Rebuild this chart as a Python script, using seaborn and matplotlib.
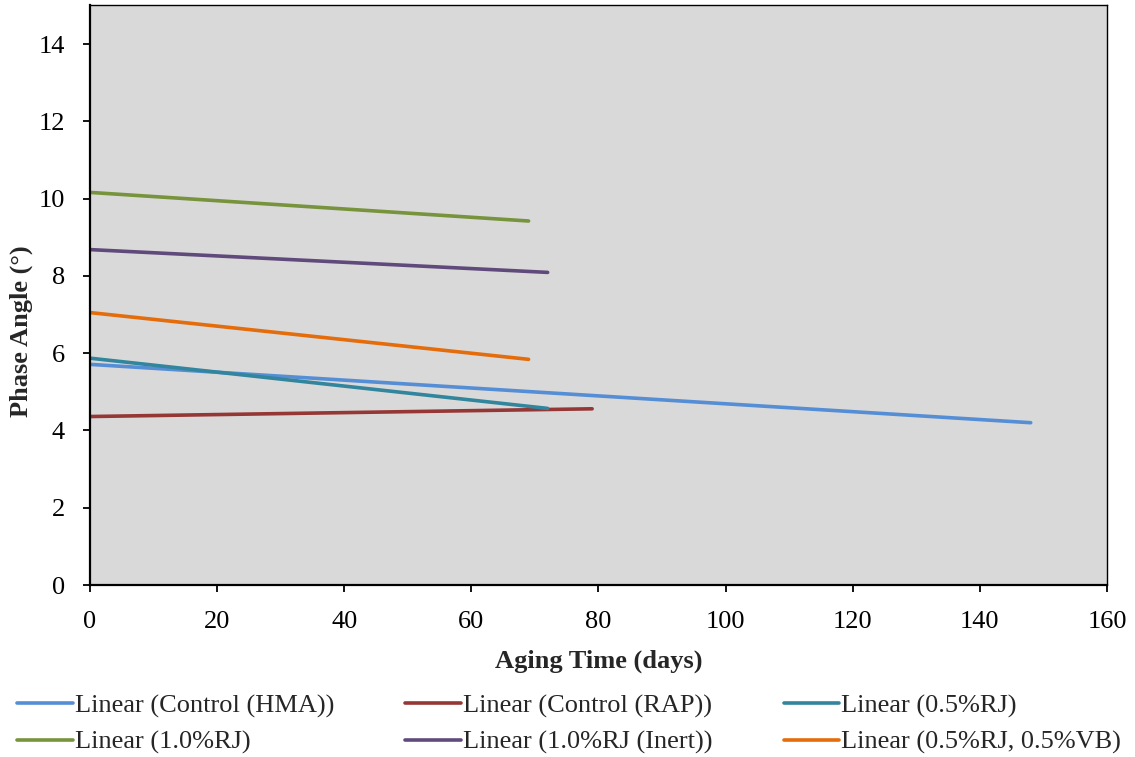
import matplotlib
matplotlib.use("Agg")
import matplotlib.pyplot as plt
import seaborn as sns
import pandas as pd

# Linear trendline endpoints for each mix: (start day, end day) -> (start, end) phase angle
series = [
    "Linear (Control (HMA))",
    "Linear (Control (RAP))",
    "Linear (0.5%RJ)",
    "Linear (1.0%RJ)",
    "Linear (1.0%RJ (Inert))",
    "Linear (0.5%RJ, 0.5%VB)",
]
day_start = [0, 0, 0, 0, 0, 0]
day_end = [148, 79, 72, 69, 72, 69]
angle_start = [5.71, 4.36, 5.87, 10.16, 8.68, 7.05]
angle_end = [4.20, 4.56, 4.57, 9.42, 8.09, 5.84]
colors = ["#558ED5", "#953735", "#31859C", "#77933C", "#604A7B", "#E46C0A"]

rows = []
for name, x0, x1, y0, y1 in zip(series, day_start, day_end, angle_start, angle_end):
    rows.append({"series": name, "days": x0, "angle": y0})
    rows.append({"series": name, "days": x1, "angle": y1})
df = pd.DataFrame(rows)

sns.set_theme(style="ticks")
plt.rcParams["font.family"] = ["Liberation Serif", "DejaVu Serif"]

fig = plt.figure(figsize=(11.35, 7.57), dpi=100)
ax = fig.add_axes([0.0793, 0.2272, 0.8960, 0.7657])
ax.set_facecolor("#D9D9D9")

sns.lineplot(data=df, x="days", y="angle", hue="series", hue_order=series,
             palette=colors, linewidth=2.6, ax=ax, legend=False,
             estimator=None, sort=False)

ax.set_xlim(0, 160)
ax.set_ylim(0, 15)
ax.set_xticks(range(0, 161, 20))
ax.set_yticks(range(0, 15, 2))
ax.tick_params(axis="both", direction="out", length=5, width=1.3,
               labelsize=19, colors="black")
ax.tick_params(axis="x", pad=13.5)
ax.tick_params(axis="y", pad=13)
for side in ["left", "bottom"]:
    ax.spines[side].set_linewidth(1.6)
    ax.spines[side].set_color("black")
for side in ["top", "right"]:
    ax.spines[side].set_visible(True)
    ax.spines[side].set_linewidth(1.0)
    ax.spines[side].set_color("black")

ax.set_xlabel("Aging Time (days)", fontsize=19, fontweight="bold", labelpad=12)
ax.set_ylabel("Phase Angle (°)", fontsize=19, fontweight="bold")
ax.yaxis.set_label_coords(-0.056, 0.438)

handles = [plt.Line2D([], [], color=c, linewidth=2.6) for c in colors]
order = [0, 3, 1, 4, 2, 5]
fig.legend([handles[i] for i in order], [series[i] for i in order],
           loc="lower left", bbox_to_anchor=(-0.001, -0.021), ncol=3,
           frameon=False, fontsize=19, handlelength=2.1, handletextpad=0.08,
           columnspacing=2.7, labelspacing=0.49, borderaxespad=0.3)

fig.savefig("out.png", dpi=100)
